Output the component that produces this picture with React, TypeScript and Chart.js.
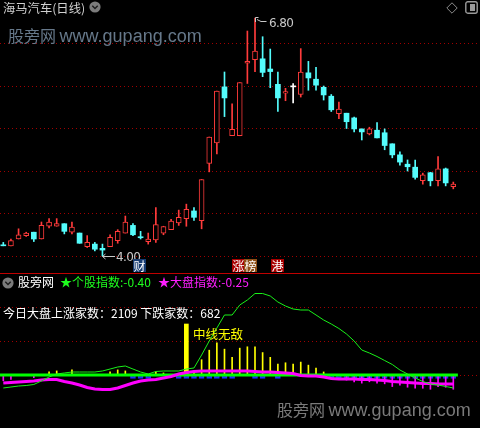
import React, { useEffect, useRef } from "react";
import { Chart, registerables } from "chart.js";

Chart.register(...registerables);

// ---------------- price panel data ----------------
const OPEN = [
  4.13, 4.12, 4.2, 4.24, 4.28, 4.2, 4.35, 4.35, 4.38, 4.28,
  4.27, 4.11, 4.14, 4.09, 4.11, 4.18, 4.27, 4.36, 4.225, 4.17,
  4.19, 4.27, 4.31, 4.39, 4.44, 4.53, 4.415, 5.09, 5.33, 5.99,
  5.415, 5.415, 6.27, 6.31, 6.32, 6.2, 6.02, 5.915, 5.99, 5.9,
  6.155, 6.08, 5.985, 5.88, 5.675, 5.68, 5.625, 5.495, 5.435, 5.48,
  5.45, 5.32, 5.19, 5.08, 5.045, 4.885, 4.98, 4.885, 5.025, 4.815,
];
const CLOSE = [
  4.12, 4.18, 4.25, 4.27, 4.2, 4.36, 4.4, 4.38, 4.29, 4.34,
  4.15, 4.16, 4.08, 4.07, 4.22, 4.29, 4.4, 4.25, 4.215, 4.2,
  4.37, 4.345, 4.41, 4.455, 4.55, 4.455, 4.9, 5.4, 5.94, 5.86,
  5.49, 6.04, 6.29, 6.41, 6.16, 6.17, 5.86, 5.935, 5.99, 6.165,
  6.095, 6.01, 5.895, 5.72, 5.73, 5.58, 5.495, 5.46, 5.495, 5.39,
  5.3, 5.19, 5.105, 5.05, 4.925, 4.955, 4.885, 5.025, 4.86, 4.845,
];
const HIGH = [
  4.16, 4.2, 4.32, 4.28, 4.28, 4.4, 4.44, 4.44, 4.38, 4.4,
  4.27, 4.24, 4.16, 4.14, 4.25, 4.31, 4.47, 4.38, 4.29, 4.27,
  4.57, 4.35, 4.43, 4.54, 4.61, 4.57, 4.9, 5.4, 5.94, 6.165,
  5.79, 6.04, 6.647, 6.8, 6.58, 6.435, 6.165, 5.973, 6.03, 6.44,
  6.29, 6.22, 6.0, 5.9, 5.81, 5.68, 5.635, 5.495, 5.515, 5.57,
  5.495, 5.32, 5.225, 5.13, 5.13, 4.975, 4.985, 5.17, 5.035, 4.87,
];
const LOW = [
  4.12, 4.12, 4.2, 4.23, 4.17, 4.2, 4.33, 4.35, 4.26, 4.26,
  4.15, 4.1, 4.06, 4.0, 4.11, 4.15, 4.27, 4.24, 4.2, 4.14,
  4.16, 4.25, 4.31, 4.36, 4.35, 4.42, 4.32, 4.99, 5.2, 5.64,
  5.415, 5.415, 6.03, 6.17, 6.11, 5.98, 5.7, 5.827, 5.8, 5.87,
  5.95, 5.95, 5.835, 5.7, 5.615, 5.5, 5.46, 5.365, 5.425, 5.39,
  5.25, 5.155, 5.07, 5.0, 4.905, 4.845, 4.825, 4.825, 4.825, 4.79,
];
const PRICE_GRID = [4.0, 4.5, 5.0, 5.5, 6.0, 6.5];
const PRICE_MIN = 3.8;
const PRICE_MAX = 7.012;
const MAX_LABEL = "6.80";
const MIN_LABEL = "4.00";

// ---------------- indicator panel data ----------------
const TREND_LINE = [
  -3.82, -3.53, -3.24, -3.09, -2.79, -1.76, -0.59, 0.29, 0.59, 0.88,
  0.88, 0.88, 0.88, 1.18, 1.76, 2.35, 2.65, 1.76, 0.88, 0.29,
  1.03, 1.18, 1.18, 1.18, 1.76, 2.06, 5.88, 10.0, 13.82, 17.65,
  17.65, 20.59, 22.06, 23.97, 23.97, 23.24, 21.47, 20.29, 19.41, 19.12,
  19.12, 17.65, 16.18, 15.0, 13.68, 12.06, 10.0, 7.35, 6.47, 5.44,
  4.26, 3.09, 1.47, 0.29, -0.88, -1.91, -2.65, -2.94, -3.38, -3.82,
];
const MARKET_LINE = [
  -2.35, -2.2, -2.06, -1.91, -1.76, -1.47, -1.32, -1.32, -1.91, -2.35,
  -2.94, -3.68, -4.12, -4.26, -4.26, -3.82, -3.09, -2.35, -1.76, -1.47,
  -1.32, -0.88, -0.44, 0.29, 0.74, 1.03, 1.18, 1.18, 1.18, 1.18,
  1.18, 1.18, 1.18, 1.03, 0.88, 0.88, 0.74, 0.59, 0.44, -0.15,
  -0.29, -0.29, -0.59, -1.03, -1.18, -1.18, -1.18, -1.32, -1.32, -1.47,
  -1.62, -1.91, -2.06, -2.2, -2.35, -2.5, -2.5, -2.65, -2.65, -2.65,
];
const SIGNAL_BARS = [
  null, null, null, null, null, null, 0.9, 1.2, null, 1.5,
  null, null, null, null, 0.9, 1.5, 1.2, null, null, null,
  0.9, 0.6, null, null, null, 0.9, 4.5, 7.3, 9.5, 7.6,
  5.2, 7.9, 8.3, 8.3, 6.6, 5.2, 3.2, 3.6, 3.2, 3.8,
  2.9, 2.0, 0.9, null, null, null, null, null, null, null,
  null, null, null, null, null, null, null, null, null, null,
];
const SIGNAL_PEAK = [
  null, null, null, null, null, null, null, null, null, null,
  null, null, null, null, null, null, null, null, null, null,
  null, null, null, null, 15.0, null, null, null, null, null,
  null, null, null, null, null, null, null, null, null, null,
  null, null, null, null, null, null, null, null, null, null,
  null, null, null, null, null, null, null, null, null, null,
];
const DOWN_BOXES = [
  null, null, null, null, null, null, null, null, null, null,
  null, null, null, null, null, null, null, -1.0, -1.0, -1.0,
  null, null, null, -1.0, -1.0, -1.0, -1.0, -1.0, -1.0, -1.0,
  -1.0, null, null, -1.0, -1.0, null, -1.0, null, null, null,
  null, null, null, -1.0, -1.0, -1.0, -1.0, -1.0, -1.0, -1.0,
  -1.0, -1.0, -1.0, -1.0, -1.0, -1.0, -1.0, -1.0, -1.0, -1.0,
];
const DOWN_STICKS = [
  -1.7, -1.3, null, null, -0.8, null, null, null, null, null,
  null, null, null, null, null, null, null, null, null, null,
  null, null, null, null, null, null, null, null, null, null,
  null, null, null, null, null, null, null, null, null, null,
  null, null, null, null, null, -1.5, -2.0, -2.4, -2.0, -2.4,
  -2.6, -3.4, -3.0, -3.6, -3.9, -3.9, -4.2, -3.4, -3.6, -4.2,
];
const IND_GRID = [0, 10, 20];
const IND_MIN = -15.59;
const IND_MAX = 29.71;
const ZERO_SPAN = [-0.45, 59.6];
const X_MIN = -0.433;
const X_MAX = 62.5;

const RED = "#ff3b3b";
const CYAN = "#54fcfc";
const WHITE = "#ffffff";
const GRID = "#a00000";
const CJK = '"Noto Sans CJK SC", "Noto Sans", sans-serif';

function xScale() {
  return {
    type: "linear" as const,
    min: X_MIN,
    max: X_MAX,
    display: false,
    offset: false,
    grid: { offset: false },
  };
}

function yScale(min: number, max: number, ticks: number[]) {
  return {
    type: "linear" as const,
    min,
    max,
    display: true,
    position: "left" as const,
    afterFit: (s: any) => {
      s.width = 0;
    },
    afterBuildTicks: (s: any) => {
      s.ticks = ticks.map((v) => ({ value: v }));
    },
    ticks: { display: false },
    grid: { color: GRID, drawTicks: false, lineWidth: 1 },
    border: { display: false, dash: [1, 3] },
  };
}

const baseOptions = {
  responsive: false,
  maintainAspectRatio: false,
  animation: false as const,
  events: [] as any[],
  layout: { padding: 0 },
  plugins: { legend: { display: false }, tooltip: { enabled: false } },
};

function sparse(arr: (number | null)[]) {
  const out: any[] = [];
  arr.forEach((v, i) => {
    if (v !== null) out.push({ x: i, y: [0, v] });
  });
  return out;
}

const Abs = ({ style, children }: any) => (
  <div style={{ position: "absolute", whiteSpace: "nowrap", lineHeight: 1, ...style }}>{children}</div>
);

const Badge = ({ left, text, bg }: any) => (
  <div
    style={{
      position: "absolute",
      left,
      top: 259,
      width: 13,
      height: 13,
      background: bg,
      color: "#fff",
      fontSize: 12,
      lineHeight: "13px",
      textAlign: "center",
      fontFamily: CJK,
    }}
  >
    {text}
  </div>
);

const CircleIcon = ({ left, top }: any) => (
  <svg style={{ position: "absolute", left, top }} width={12} height={12}>
    <circle cx={6} cy={6} r={5.6} fill="#7c7c7c" />
    <polyline points="3.3,4.8 6,7.5 8.7,4.8" fill="none" stroke="#1c1c1c" strokeWidth={1.4} />
  </svg>
);

export default function App() {
  const topRef = useRef<HTMLCanvasElement>(null);
  const botRef = useRef<HTMLCanvasElement>(null);

  useEffect(() => {
    const idx = OPEN.map((_, i) => i);
    const colorOf = (i: number) => (CLOSE[i] > OPEN[i] ? RED : CLOSE[i] < OPEN[i] ? CYAN : WHITE);
    const isUp = (i: number) => CLOSE[i] > OPEN[i];

    const top = new Chart(topRef.current as HTMLCanvasElement, {
      type: "bar",
      data: {
        datasets: [
          {
            data: idx.map((i) => ({ x: i, y: [LOW[i], HIGH[i]] })) as any,
            backgroundColor: idx.map(colorOf),
            barThickness: 1,
            grouped: false,
            order: 2,
          } as any,
          {
            data: idx.map((i) => ({ x: i, y: [OPEN[i], CLOSE[i]] })) as any,
            backgroundColor: idx.map((i) => (isUp(i) ? "#000000" : colorOf(i))),
            borderColor: idx.map((i) => (isUp(i) ? RED : "rgba(0,0,0,0)")),
            borderWidth: idx.map((i) => (isUp(i) ? 1 : 0)),
            borderSkipped: false,
            barThickness: 5,
            minBarLength: 1,
            grouped: false,
            order: 1,
          } as any,
        ],
      },
      options: {
        ...baseOptions,
        scales: { x: xScale(), y: yScale(PRICE_MIN, PRICE_MAX, PRICE_GRID) },
      } as any,
    });

    const bot = new Chart(botRef.current as HTMLCanvasElement, {
      type: "bar",
      data: {
        datasets: [
          {
            type: "line",
            data: idx.map((i) => ({ x: i, y: TREND_LINE[i] })),
            borderColor: "#19f019",
            borderWidth: 1,
            pointRadius: 0,
            tension: 0,
            order: 1,
          } as any,
          {
            type: "line",
            data: idx.map((i) => ({ x: i, y: MARKET_LINE[i] })),
            borderColor: "#ff00ff",
            borderWidth: 3,
            pointRadius: 0,
            tension: 0,
            order: 2,
          } as any,
          {
            type: "line",
            data: ZERO_SPAN.map((x) => ({ x, y: 0 })),
            borderColor: "#00ff00",
            borderWidth: 3,
            pointRadius: 0,
            order: 3,
          } as any,
          {
            data: sparse(DOWN_STICKS),
            backgroundColor: "#ff00ff",
            barThickness: 1,
            grouped: false,
            order: 4,
          } as any,
          {
            data: sparse(DOWN_BOXES),
            backgroundColor: "rgba(0,0,0,0)",
            borderColor: "#1e2cff",
            borderWidth: 1,
            borderSkipped: false,
            barThickness: 5,
            grouped: false,
            order: 5,
          } as any,
          {
            data: sparse(SIGNAL_BARS),
            backgroundColor: "#ffff00",
            barThickness: 1,
            grouped: false,
            order: 6,
          } as any,
          {
            data: sparse(SIGNAL_PEAK),
            backgroundColor: "#ffff00",
            barThickness: 4,
            grouped: false,
            order: 6,
          } as any,
        ],
      },
      options: {
        ...baseOptions,
        scales: { x: xScale(), y: yScale(IND_MIN, IND_MAX, IND_GRID) },
      } as any,
    });

    return () => {
      top.destroy();
      bot.destroy();
    };
  }, []);

  return (
    <div
      style={{
        position: "absolute",
        left: 0,
        top: 0,
        width: 480,
        height: 428,
        background: "#000",
        overflow: "hidden",
        fontFamily: CJK,
      }}
    >
      <canvas
        ref={topRef}
        width={480}
        height={273}
        style={{ position: "absolute", left: 0, top: 0, width: 480, height: 273 }}
      />
      <div style={{ position: "absolute", left: 0, top: 273, width: 480, height: 1, background: "#c00000" }} />
      <canvas
        ref={botRef}
        width={480}
        height={154}
        style={{ position: "absolute", left: 0, top: 274, width: 480, height: 154 }}
      />

      {/* header */}
      <Abs style={{ left: 3, top: 1.5, fontSize: 12.3, color: "#d0d0d0" }}>海马汽车(日线)</Abs>
      <CircleIcon left={89} top={1} />
      <svg style={{ position: "absolute", left: 446, top: 2 }} width={12} height={12}>
        <polygon points="6,0.8 11.2,6 6,11.2 0.8,6" fill="none" stroke="#8a8a8a" strokeWidth={1} />
      </svg>
      <svg style={{ position: "absolute", left: 465, top: 1 }} width={13} height={13}>
        <rect x={0.8} y={0.8} width={11.4} height={11.4} rx={2} fill="none" stroke="#9a9a9a" strokeWidth={1.4} />
        <rect x={5} y={3} width={5} height={7} fill="#9a9a9a" />
      </svg>

      {/* watermark top */}
      <Abs style={{ left: 8, top: 27, fontSize: 16, color: "#66788a" }}>
        股旁网 <span style={{ fontFamily: '"Liberation Sans", sans-serif', fontSize: 18 }}>www.gupang.com</span>
      </Abs>

      {/* max / min labels */}
      <svg style={{ position: "absolute", left: 253, top: 15 }} width={16} height={10}>
        <polyline points="2.5,7 2.5,2.5 5.5,2.5" fill="none" stroke="#c8c8c8" strokeWidth={1} />
        <polyline points="4,4.5 8,6.5 13.5,6.5" fill="none" stroke="#c8c8c8" strokeWidth={1} />
      </svg>
      <Abs style={{ left: 269, top: 17, fontSize: 12, color: "#c8c8c8", fontFamily: '"DejaVu Sans", sans-serif', letterSpacing: -0.6 }}>
        {MAX_LABEL}
      </Abs>
      <svg style={{ position: "absolute", left: 101, top: 252 }} width={15} height={10}>
        <polyline points="4.5,2 1.5,4.5 4.5,7" fill="none" stroke="#c8c8c8" strokeWidth={1} />
        <line x1={1.5} y1={4.5} x2={14} y2={4.5} stroke="#c8c8c8" strokeWidth={1} />
      </svg>
      <Abs style={{ left: 116, top: 251, fontSize: 12, color: "#c8c8c8", fontFamily: '"DejaVu Sans", sans-serif', letterSpacing: -0.6 }}>
        {MIN_LABEL}
      </Abs>

      {/* badges */}
      <Badge left={133} text="财" bg="#173c72" />
      <Badge left={232} text="涨" bg="#a80000" />
      <Badge left={244} text="榜" bg="#8e4f16" />
      <Badge left={271} text="港" bg="#a80000" />

      {/* indicator header */}
      <CircleIcon left={2} top={277} />
      <Abs style={{ left: 18, top: 276, fontSize: 12, color: "#ffffff" }}>股旁网</Abs>
      <Abs style={{ left: 60, top: 276, fontSize: 12, color: "#1eff1e" }}>★个股指数:-0.40</Abs>
      <Abs style={{ left: 158, top: 276, fontSize: 12, color: "#ff1eff" }}>★大盘指数:-0.25</Abs>
      <Abs style={{ left: 3, top: 307, fontSize: 12, color: "#ffffff" }}>今日大盘上涨家数：2109 下跌家数：682</Abs>
      <Abs style={{ left: 193, top: 328, fontSize: 12.5, color: "#ffff00" }}>中线无敌</Abs>

      {/* watermark bottom */}
      <Abs style={{ left: 277, top: 401, fontSize: 16, color: "#7a7a7a" }}>
        股旁网 <span style={{ fontFamily: '"Liberation Sans", sans-serif', fontSize: 18 }}>www.gupang.com</span>
      </Abs>
    </div>
  );
}
